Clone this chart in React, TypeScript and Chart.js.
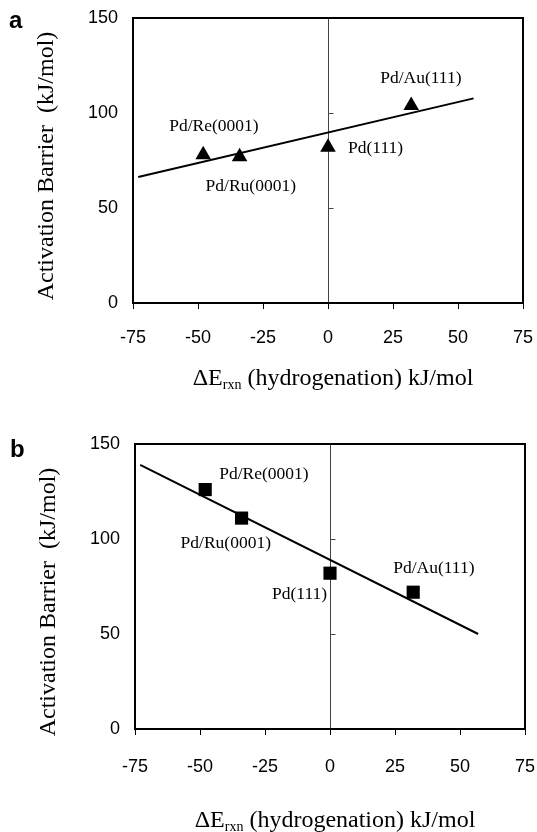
import React, { useEffect, useRef } from 'react';
import { Chart, registerables } from 'chart.js';

Chart.register(...registerables);

// ---- data ----
const surfaces = ['Pd/Re(0001)', 'Pd/Ru(0001)', 'Pd(111)', 'Pd/Au(111)'];
const reactionEnergyA = [-48, -34, 0, 32];
const barrierA = [78, 77, 82, 104];
const reactionEnergyB = [-48, -34, 0, 32];
const barrierB = [126, 111, 82, 72];
const fitXA = [-73, 56];
const fitYA = [66.3, 107.7];
const fitXB = [-73, 57];
const fitYB = [139, 50];
const xTickValues = [-75, -50, -25, 0, 25, 50, 75];
const yTickValues = [0, 50, 100, 150];
const yTitle = 'Activation Barrier  (kJ/mol)';
const xTitleParts = ['\u0394E', 'rxn', ' (hydrogenation) kJ/mol'];

// ---- styling / layout (not data) ----
const W = 537;
const H = 416;
const SERIF = '"Liberation Serif", "Times New Roman", serif';
const SANS = '"Liberation Sans", Arial, sans-serif';

type PanelCfg = {
  letter: string;
  letterPos: [number, number];
  xs: number[];
  ys: number[];
  fitX: number[];
  fitY: number[];
  pointStyle: string;
  pointRadius: number;
  labelOffsets: [number, number][];
  area: { left: number; right: number; top: number; bottom: number };
  yTickPad: number;
  xTickPad: number;
  yTitlePos: [number, number];
  xTitlePos: [number, number];
};

const panelA: PanelCfg = {
  letter: 'a',
  letterPos: [9, 28],
  xs: reactionEnergyA,
  ys: barrierA,
  fitX: fitXA,
  fitY: fitYA,
  pointStyle: 'triangle',
  pointRadius: 9,
  labelOffsets: [[-34, -28], [-34, 30], [20, 1], [-31, -27]],
  area: { left: 133, right: 523, top: 18, bottom: 303 },
  yTickPad: 15,
  xTickPad: 18,
  yTitlePos: [47, 166],
  xTitlePos: [333, 385],
};

const panelB: PanelCfg = {
  letter: 'b',
  letterPos: [10, 41],
  xs: reactionEnergyB,
  ys: barrierB,
  fitX: fitXB,
  fitY: fitYB,
  pointStyle: 'rect',
  pointRadius: 9.3,
  labelOffsets: [[14, -15], [-61, 25], [-58, 21], [-20, -24]],
  area: { left: 135, right: 525, top: 28, bottom: 313 },
  yTickPad: 15,
  xTickPad: 21,
  yTitlePos: [49, 186],
  xTitlePos: [335, 411],
};

function makePlugin(cfg: PanelCfg) {
  return {
    id: 'panelDecor',
    beforeDatasetsDraw(chart: any) {
      const { ctx, chartArea: ca, scales } = chart;
      const x = scales.x;
      const y = scales.y;
      const x0 = Math.round(x.getPixelForValue(0)) + 0.5;
      ctx.save();
      ctx.strokeStyle = '#444';
      ctx.lineWidth = 1;
      ctx.beginPath();
      ctx.moveTo(x0, ca.top);
      ctx.lineTo(x0, ca.bottom);
      yTickValues.forEach((v) => {
        if (v > yTickValues[0] && v < yTickValues[yTickValues.length - 1]) {
          const py = Math.round(y.getPixelForValue(v)) + 0.5;
          ctx.moveTo(x0, py);
          ctx.lineTo(x0 + 5, py);
        }
      });
      ctx.stroke();
      ctx.restore();
    },
    afterDraw(chart: any) {
      const { ctx, chartArea: ca, scales } = chart;
      const x = scales.x;
      const y = scales.y;
      ctx.save();
      // plot box
      ctx.strokeStyle = '#000';
      ctx.lineWidth = 2;
      ctx.strokeRect(ca.left, ca.top, ca.right - ca.left, ca.bottom - ca.top);

      // point labels
      ctx.fillStyle = '#000';
      ctx.font = `17.5px ${SERIF}`;
      ctx.textAlign = 'left';
      ctx.textBaseline = 'middle';
      surfaces.forEach((name, i) => {
        const px = x.getPixelForValue(cfg.xs[i]);
        const py = y.getPixelForValue(cfg.ys[i]);
        const [dx, dy] = cfg.labelOffsets[i];
        ctx.fillText(name, px + dx, py + dy);
      });

      // y title
      ctx.save();
      ctx.translate(cfg.yTitlePos[0], cfg.yTitlePos[1]);
      ctx.rotate(-Math.PI / 2);
      ctx.font = `24px ${SERIF}`;
      ctx.textAlign = 'center';
      ctx.textBaseline = 'middle';
      ctx.fillText(yTitle, 0, 0);
      ctx.restore();

      // x title with subscript
      const sizes = [24, 14, 24];
      const shifts = [0, 4, 0];
      let total = 0;
      const widths = xTitleParts.map((t, i) => {
        ctx.font = `${sizes[i]}px ${SERIF}`;
        const w = ctx.measureText(t).width;
        total += w;
        return w;
      });
      let cx = cfg.xTitlePos[0] - total / 2;
      ctx.textAlign = 'left';
      ctx.textBaseline = 'alphabetic';
      xTitleParts.forEach((t, i) => {
        ctx.font = `${sizes[i]}px ${SERIF}`;
        ctx.fillText(t, cx, cfg.xTitlePos[1] + shifts[i]);
        cx += widths[i];
      });

      // panel letter
      ctx.font = `bold 24px ${SANS}`;
      ctx.textAlign = 'left';
      ctx.textBaseline = 'alphabetic';
      ctx.fillText(cfg.letter, cfg.letterPos[0], cfg.letterPos[1]);
      ctx.restore();
    },
  };
}

function Panel({ cfg }: { cfg: PanelCfg }) {
  const ref = useRef<HTMLCanvasElement | null>(null);
  useEffect(() => {
    if (!ref.current) return;
    const a = cfg.area;
    const chart = new Chart(ref.current, {
      type: 'scatter',
      data: {
        datasets: [
          {
            label: 'fit',
            data: cfg.fitX.map((v, i) => ({ x: v, y: cfg.fitY[i] })),
            showLine: true,
            borderColor: '#000',
            borderWidth: 2,
            pointRadius: 0,
            fill: false,
          },
          {
            label: 'points',
            data: cfg.xs.map((v, i) => ({ x: v, y: cfg.ys[i] })),
            showLine: false,
            pointStyle: cfg.pointStyle as any,
            pointRadius: cfg.pointRadius,
            backgroundColor: '#000',
            borderColor: '#000',
            borderWidth: 0,
          },
        ],
      },
      options: {
        responsive: false,
        animation: false,
        devicePixelRatio: 1,
        layout: { padding: { left: 0, right: W - a.right, top: a.top, bottom: 0 } },
        plugins: { legend: { display: false }, tooltip: { enabled: false }, title: { display: false } },
        scales: {
          x: {
            type: 'linear',
            min: xTickValues[0],
            max: xTickValues[xTickValues.length - 1],
            afterBuildTicks: (s: any) => {
              s.ticks = xTickValues.map((v) => ({ value: v }));
            },
            afterFit: (s: any) => {
              s.height = H - a.bottom;
              s.paddingLeft = 0;
              s.paddingRight = 0;
            },
            grid: { display: true, drawOnChartArea: false, drawTicks: true, tickLength: 6, color: '#000', lineWidth: 1 },
            border: { display: false },
            ticks: { color: '#000', font: { family: SANS, size: 18 }, padding: cfg.xTickPad, maxRotation: 0 },
          },
          y: {
            type: 'linear',
            min: yTickValues[0],
            max: yTickValues[yTickValues.length - 1],
            afterBuildTicks: (s: any) => {
              s.ticks = yTickValues.map((v) => ({ value: v }));
            },
            afterFit: (s: any) => {
              s.width = a.left;
              s.paddingTop = 0;
              s.paddingBottom = 0;
            },
            grid: { display: false, drawTicks: false, tickLength: 0 },
            border: { display: false },
            ticks: { color: '#000', font: { family: SANS, size: 18 }, padding: cfg.yTickPad },
          },
        },
      },
      plugins: [makePlugin(cfg)],
    });
    return () => chart.destroy();
  }, [cfg]);
  return <canvas ref={ref} width={W} height={H} style={{ display: 'block', width: W, height: H }} />;
}

export default function App() {
  return (
    <div style={{ position: 'absolute', left: 0, top: 0, width: W, height: 2 * H, background: '#fff' }}>
      <Panel cfg={panelA} />
      <Panel cfg={panelB} />
    </div>
  );
}
